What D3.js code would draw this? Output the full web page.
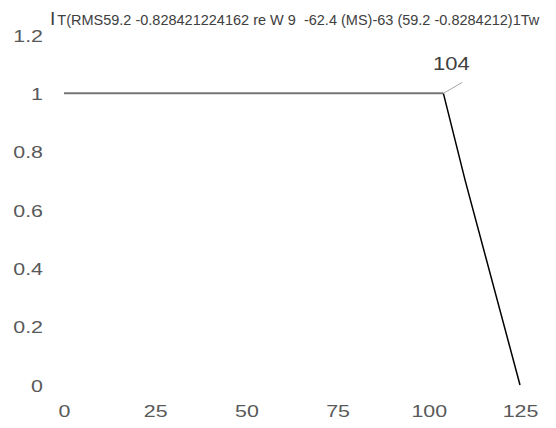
<!DOCTYPE html>
<html><head><meta charset="utf-8">
<script src="https://cdn.jsdelivr.net/npm/d3@7"></script>
<style>body{margin:0;background:#fff}svg{display:block}text{font-family:"Liberation Sans",Arial,sans-serif;white-space:pre}</style>
</head><body>
<svg id="c" width="556" height="428"></svg>
<script>
const flatX = [0, 104];
const flatY = [1, 1];
const dropX = [104, 110, 125];
const dropY = [1, 0.7, 0];
const xTicks = [0, 25, 50, 75, 100, 125];
const yTicks = [0, 0.2, 0.4, 0.6, 0.8, 1, 1.2];
const yTickLabels = ["0", "0.2", "0.4", "0.6", "0.8", "1", "1.2"];
const annotX = 104, annotY = 1, annotText = "104";
const titleMain = "I";
const titleSub = "T(RMS59.2 -0.828421224162 re W 9  -62.4 (MS)-63 (59.2 -0.8284212)1Tw";

const svg = d3.select("#c");
const x = d3.scaleLinear().domain([0, 125]).range([64, 520]);
const y = d3.scaleLinear().domain([0, 1.2]).range([385, 35]);
const stretch = "scale(1.26,1)";

const xAxis = d3.axisBottom(x).tickValues(xTicks).tickSize(0).tickPadding(0);
const gx = svg.append("g").attr("transform", "translate(0,405)").call(xAxis);
gx.select(".domain").remove();
gx.selectAll("text").attr("font-size", 17).attr("fill", "#595959")
  .attr("font-family", "Liberation Sans, Arial, sans-serif").attr("dy", "0.71em").attr("transform", stretch);

const yAxis = d3.axisLeft(y).tickValues(yTicks).tickFormat((d, i) => yTickLabels[i]).tickSize(0).tickPadding(0);
const gy = svg.append("g").attr("transform", "translate(43,0)").call(yAxis);
gy.select(".domain").remove();
gy.selectAll("text").attr("font-size", 17).attr("fill", "#595959")
  .attr("font-family", "Liberation Sans, Arial, sans-serif").attr("dy", "0.36em").attr("transform", stretch);

const line = d3.line().x(d => x(d[0])).y(d => y(d[1]));
svg.append("path").datum(flatX.map((v, i) => [v, flatY[i]]))
  .attr("d", line).attr("fill", "none").attr("stroke", "#767676").attr("stroke-width", 2);
svg.append("path").datum(dropX.map((v, i) => [v, dropY[i]]))
  .attr("d", line).attr("fill", "none").attr("stroke", "#000").attr("stroke-width", 1.5);

// annotation
const ax = x(annotX), ay = y(annotY);
svg.append("line").attr("x1", ax).attr("y1", ay).attr("x2", ax + 19).attr("y2", ay - 11)
  .attr("stroke", "#a6a6a6").attr("stroke-width", 1);
svg.append("g").attr("transform", `translate(${ax + 8},${ay - 23})`)
  .append("text").attr("text-anchor", "middle").attr("transform", "scale(1.22,1)")
  .attr("font-size", 18).attr("fill", "#404040").text(annotText);

// title
const t = svg.append("text").attr("x", 50).attr("y", 25).attr("fill", "#404040");
t.append("tspan").attr("font-size", 19).text(titleMain);
t.append("tspan").attr("font-size", 14.5).attr("dx", 2).text(titleSub);
</script>
</body></html>
